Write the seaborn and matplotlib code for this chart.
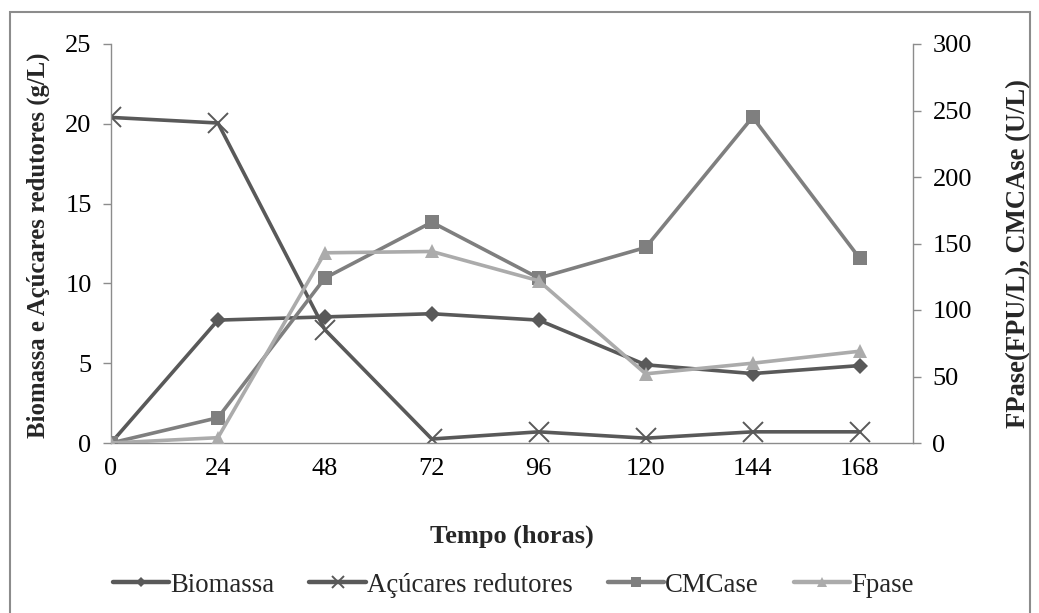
import matplotlib
matplotlib.use("Agg")
import matplotlib.pyplot as plt
import seaborn as sns
import pandas as pd
from matplotlib.patches import Rectangle

tempo = [0, 24, 48, 72, 96, 120, 144, 168]
biomassa = [0.0, 7.7, 7.9, 8.1, 7.7, 4.9, 4.35, 4.85]
acucares = [20.4, 20.05, 7.1, 0.25, 0.7, 0.3, 0.7, 0.7]
cmcase = [0, 19, 124, 166, 124, 147, 245, 139]
fpase = [0, 4, 143, 144, 122, 52, 60, 69]

sns.set_theme(style="white")
plt.rcParams['font.family'] = ['Liberation Serif', 'DejaVu Serif']

df = pd.DataFrame({"Tempo": tempo, "Biomassa": biomassa, "Acucares": acucares,
                   "CMCase": cmcase, "Fpase": fpase})

fig = plt.figure(figsize=(10.39, 6.13), dpi=100)
ax = fig.add_axes([111/1039, 1-443/613, (913-111)/1039, (443-44)/613])
ax2 = ax.twinx()

dark = "#595959"
mid = "#7f7f7f"
light = "#ababab"
lw = 2.6

sns.lineplot(data=df, x="Tempo", y="Biomassa", ax=ax, color=dark, lw=lw,
             marker="D", markersize=8, markeredgewidth=0, label="Biomassa", legend=False)
sns.lineplot(data=df, x="Tempo", y="Acucares", ax=ax, color=dark, lw=lw,
             marker="x", markersize=14, markeredgewidth=1.4, markeredgecolor=dark,
             label="Açúcares redutores", legend=False)
sns.lineplot(data=df, x="Tempo", y="CMCase", ax=ax2, color=mid, lw=lw,
             marker="s", markersize=10, markeredgewidth=0, label="CMCase", legend=False)
sns.lineplot(data=df, x="Tempo", y="Fpase", ax=ax2, color=light, lw=lw,
             marker="^", markersize=10, markeredgewidth=0, label="Fpase", legend=False)

ax.set_xlim(0, 180)
ax.set_ylim(0, 25)
ax2.set_ylim(0, 300)
ax.set_xticks(tempo)
ax.set_yticks([0, 5, 10, 15, 20, 25])
ax2.set_yticks([0, 50, 100, 150, 200, 250, 300])

spine_c = "#8c8c8c"
for a in (ax, ax2):
    a.spines['top'].set_visible(False)
    for s in ('left', 'right', 'bottom'):
        a.spines[s].set_color(spine_c)
        a.spines[s].set_linewidth(1.0)
    a.tick_params(axis='both', which='both', direction='out', length=6, width=1,
                  color=spine_c, labelsize=19, labelcolor="black")
ax.spines['right'].set_visible(False)
ax2.spines['left'].set_visible(False)
ax2.spines['bottom'].set_visible(False)
ax.tick_params(axis='x', pad=5)
ax.tick_params(axis='y', pad=8)
ax2.tick_params(axis='y', pad=8)

ax.set_xlabel("Tempo (horas)", fontsize=19, fontweight="bold", labelpad=32)
ax.set_ylabel("Biomassa e Açúcares redutores (g/L)", fontsize=17.8, fontweight="bold")
ax2.set_ylabel("FPase(FPU/L), CMCAse (U/L)", fontsize=19.2, fontweight="bold")
ax.yaxis.set_label_coords((50 - 111) / 802, (443 - 245) / 399)
ax2.yaxis.set_label_coords((1006 - 111) / 802, (443 - 254) / 399)

h1, l1 = ax.get_legend_handles_labels()
h2, l2 = ax2.get_legend_handles_labels()
leg = fig.legend(h1 + h2, l1 + l2, loc="center", bbox_to_anchor=(0.494, 1-585/613), ncol=4,
                 frameon=False, fontsize=19.3, handlelength=2.1, columnspacing=1.3,
                 handletextpad=0.05, markerscale=0.65)
for line in leg.get_lines():
    line.set_linewidth(3.2)

fig.patches.append(Rectangle((10/1039, -0.02), (1030-10)/1039, 1.02 - 12/613,
                             transform=fig.transFigure, fill=False, edgecolor="#8c8c8c",
                             linewidth=1.5))

fig.savefig("out.png", dpi=100)
